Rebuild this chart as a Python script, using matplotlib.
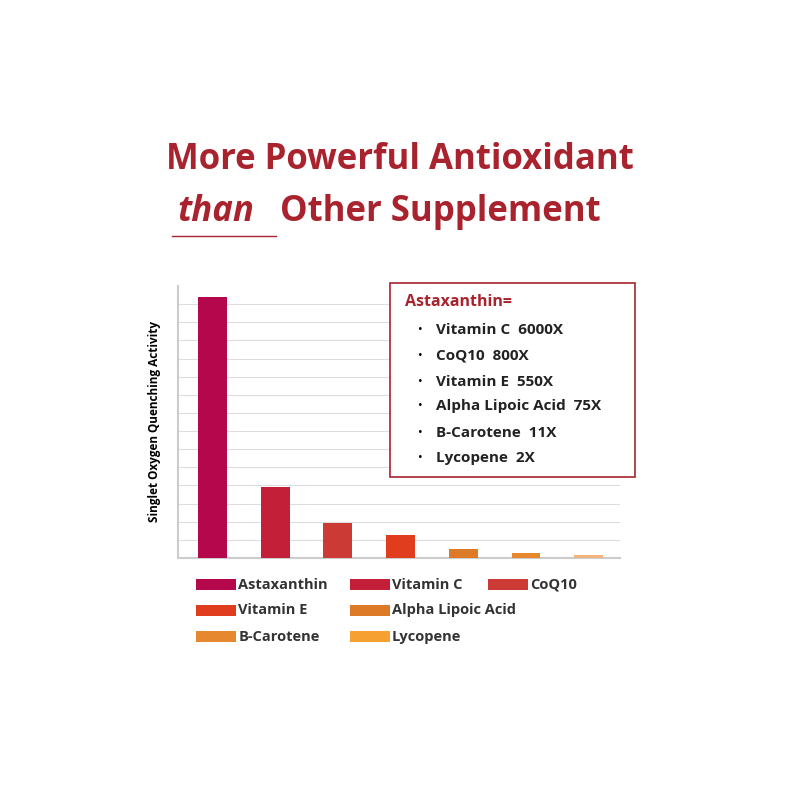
import matplotlib
matplotlib.use("Agg")
import matplotlib.pyplot as plt
from matplotlib.patches import Rectangle

categories = ["Astaxanthin", "Vitamin C", "CoQ10", "Vitamin E", "Alpha Lipoic Acid", "B-Carotene", "Lycopene"]
values = [14.4, 3.9, 1.95, 1.25, 0.5, 0.27, 0.19]
colors = ["#B5084C", "#C41F38", "#CB3A35", "#E03C1E", "#DD7A28", "#E6892E", "#F2B47E"]
legend_colors = ["#B5084C", "#C41F38", "#CB3A35", "#E03C1E", "#DD7A28", "#E6892E", "#F5A030"]
box_lines = ["Vitamin C  6000X", "CoQ10  800X", "Vitamin E  550X",
             "Alpha Lipoic Acid  75X", "B-Carotene  11X", "Lycopene  2X"]

plt.rcParams['font.family'] = ['Open Sans', 'DejaVu Sans']
red = "#A8232D"
fig = plt.figure(figsize=(8, 8), dpi=100)
fig.text(0.5, 0.8, "More Powerful Antioxidant", ha="center", va="center",
         fontsize=25, fontweight="bold", color=red)
fig.text(0.222, 0.735, "than", ha="left", va="center", fontsize=25,
         fontweight="bold", style="italic", color=red)
fig.text(0.35, 0.735, "Other Supplement", ha="left", va="center", fontsize=25,
         fontweight="bold", color=red)
fig.add_artist(plt.Line2D([0.215, 0.345], [0.705, 0.705], color=red, lw=1))

ax = fig.add_axes([0.2225, 0.3025, 0.5525, 0.34])
x = list(range(len(categories)))
ax.bar(x, values, width=0.46, color=colors, zorder=3)
ax.set_xlim(-0.55, 6.5)
ax.set_ylim(0, 15)
for g in range(1, 15):
    ax.axhline(g, color="#dddddd", lw=0.8, zorder=1)
for s in ["top", "right"]:
    ax.spines[s].set_visible(False)
ax.spines["left"].set_color("#cccccc")
ax.spines["bottom"].set_color("#cccccc")
ax.spines["left"].set_linewidth(1.5)
ax.spines["bottom"].set_linewidth(1.5)
ax.set_xticks([]); ax.set_yticks([])
ax.set_ylabel("Singlet Oxygen Quenching Activity", fontsize=8.5, fontweight="bold", labelpad=12)

fig.add_artist(Rectangle((0.487, 0.404), 0.307, 0.242, transform=fig.transFigure,
                         facecolor="white", edgecolor="#A8232D", lw=1.2, zorder=5))
fig.text(0.506, 0.622, "Astaxanthin=", fontsize=11.5, fontweight="bold", color=red, zorder=6, va="center")
ys = [0.588, 0.556, 0.523, 0.493, 0.459, 0.428]
for yy, t in zip(ys, box_lines):
    fig.text(0.522, yy, "•", fontsize=9, zorder=6, va="center")
    fig.text(0.545, yy, t, fontsize=11, fontweight="bold", color="#222222", zorder=6, va="center")

pos = [(0.245, 0.269), (0.437, 0.269), (0.61, 0.269),
       (0.245, 0.237), (0.437, 0.237),
       (0.245, 0.204), (0.437, 0.204)]
for (px, py), c, lab in zip(pos, legend_colors, categories):
    fig.add_artist(Rectangle((px, py - 0.007), 0.05, 0.014, transform=fig.transFigure,
                             facecolor=c, edgecolor="none"))
    fig.text(px + 0.053, py, lab, fontsize=10.5, fontweight="bold", color="#333333", va="center")

fig.savefig("out.png", dpi=100, facecolor="white")
